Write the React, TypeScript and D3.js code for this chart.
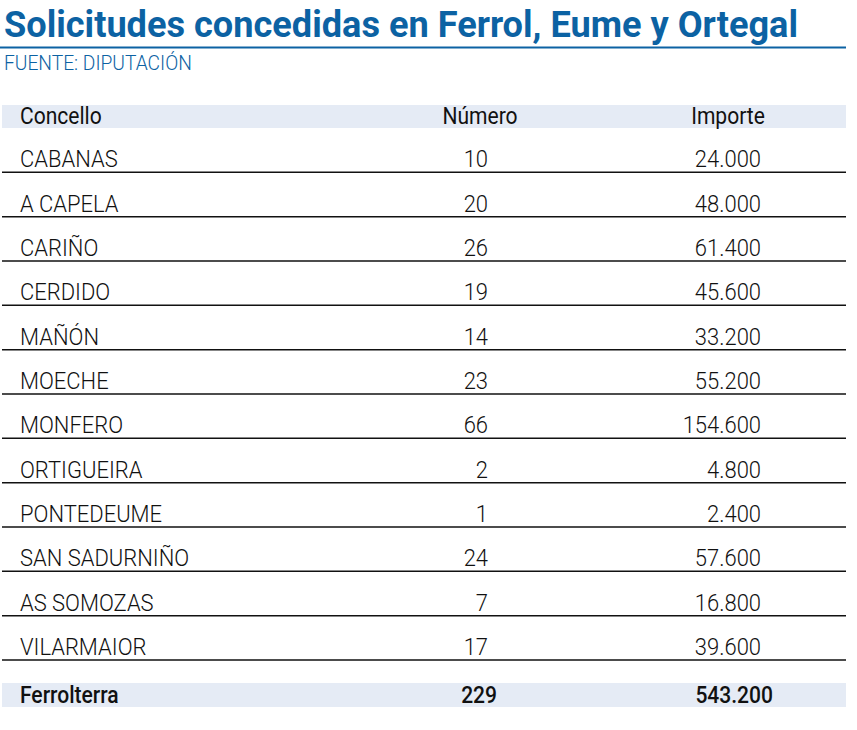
import React from "react";
import * as d3 from "d3";

const width = 857;
const height = 730;

const title = "Solicitudes concedidas en Ferrol, Eume y Ortegal";
const source = "FUENTE: DIPUTACIÓN";
const headers = ["Concello", "Número", "Importe"];

const concellos = [
  "CABANAS", "A CAPELA", "CARIÑO", "CERDIDO", "MAÑÓN", "MOECHE",
  "MONFERO", "ORTIGUEIRA", "PONTEDEUME", "SAN SADURNIÑO", "AS SOMOZAS", "VILARMAIOR",
];
const numeros = [10, 20, 26, 19, 14, 23, 66, 2, 1, 24, 7, 17];
const importes = [24000, 48000, 61400, 45600, 33200, 55200, 154600, 4800, 2400, 57600, 16800, 39600];
const totalLabel = "Ferrolterra";
const totalNumero = 229;
const totalImporte = 543200;

const blue = "#0c62a3";
const band = "#e5ebf5";
const font = "Roboto, 'Noto Sans', sans-serif";

const esLocale = d3.formatLocale({ decimal: ",", thousands: ".", grouping: [3], currency: ["", " €"] });
const fmt = esLocale.format(",d");

// row band scale
const y = d3.scaleBand<string>().domain(concellos).range([128, 660]).padding(0);

// horizontal squeeze to imitate the condensed face
const sx = 0.915;

function Cell({ x, yy, anchor, weight, size, fill = "#111", children }: any) {
  return (
    <text
      transform={`translate(${x},${yy}) scale(${sx},1)`}
      textAnchor={anchor}
      fontFamily={font}
      fontWeight={weight}
      fontSize={size}
      fill={fill}
    >
      {children}
    </text>
  );
}

export default function App() {
  const colName = 20;
  const colNum = 488;
  const colImp = 761;
  const rowText = 24;
  return (
    <svg width={width} height={height} style={{ position: "absolute", left: 0, top: 0, background: "#fff" }}>
      <text x={4} y={37} fontFamily={font} fontWeight={700} fontSize={36} fill={blue}
        textLength={794} lengthAdjust="spacingAndGlyphs">
        {title}
      </text>
      <line x1={0} x2={846} y1={47.5} y2={47.5} stroke={blue} strokeWidth={2.2} />
      <Cell x={4} yy={70} anchor="start" weight={300} size={21} fill={blue}>{source}</Cell>

      {/* header */}
      <rect x={2} y={105} width={844} height={23} fill={band} />
      <Cell x={colName} yy={124} anchor="start" weight={400} size={23}>{headers[0]}</Cell>
      <Cell x={480} yy={124} anchor="middle" weight={400} size={23}>{headers[1]}</Cell>
      <Cell x={728} yy={124} anchor="middle" weight={400} size={23}>{headers[2]}</Cell>

      {/* rows */}
      {concellos.map((c, i) => {
        const bottom = (y(c) as number) + y.bandwidth();
        return (
          <g key={c}>
            <Cell x={colName} yy={bottom - 5} anchor="start" weight={300} size={rowText}>{c}</Cell>
            <Cell x={colNum} yy={bottom - 5} anchor="end" weight={300} size={rowText}>{numeros[i]}</Cell>
            <Cell x={colImp} yy={bottom - 5} anchor="end" weight={300} size={rowText}>{fmt(importes[i])}</Cell>
            <line x1={2} x2={846} y1={bottom} y2={bottom} stroke="#111" strokeWidth={1.5} />
          </g>
        );
      })}

      {/* total */}
      <rect x={2} y={683} width={844} height={24} fill={band} />
      <Cell x={colName} yy={703} anchor="start" weight={500} size={23}>{totalLabel}</Cell>
      <Cell x={497} yy={703} anchor="end" weight={500} size={23}>{totalNumero}</Cell>
      <Cell x={773} yy={703} anchor="end" weight={500} size={23}>{fmt(totalImporte)}</Cell>
    </svg>
  );
}
